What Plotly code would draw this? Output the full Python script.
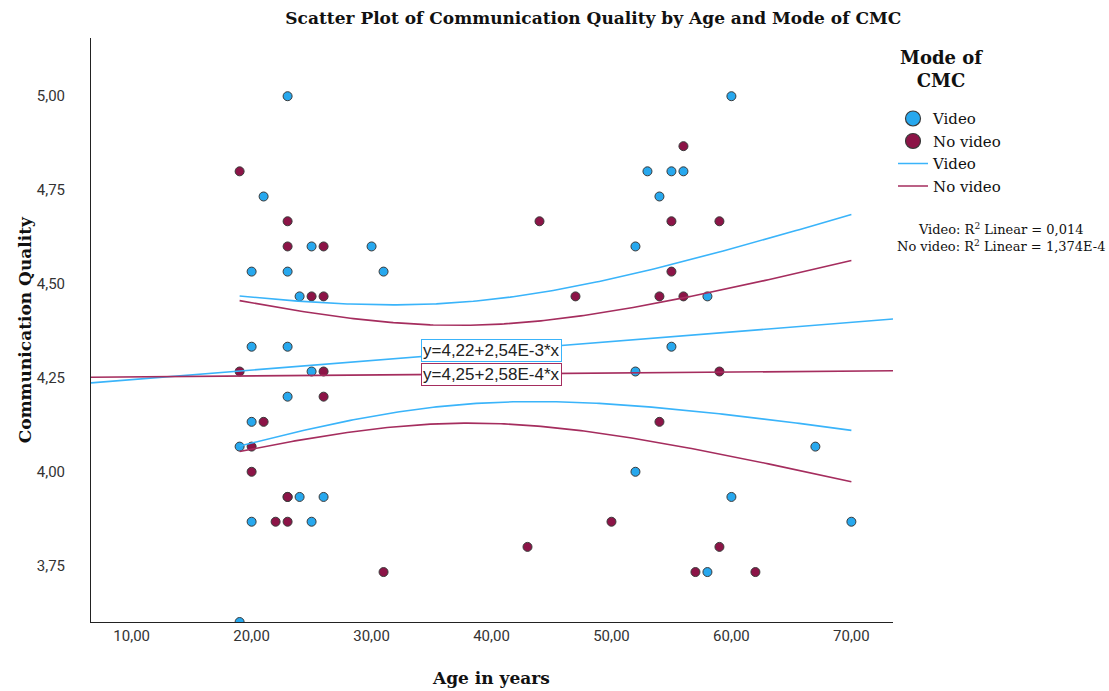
import numpy as np
import plotly.graph_objects as go

# ---------------- data ----------------
video_age = [23, 21, 25, 30, 20, 23, 31, 24, 20, 23, 25, 23, 20, 19, 24, 26, 20, 25, 19,
             60, 53, 55, 56, 54, 52, 58, 55, 52, 67, 52, 60, 70, 58]
video_quality = [5.000, 4.733, 4.600, 4.600, 4.533, 4.533, 4.533, 4.467, 4.333, 4.333, 4.267,
                 4.200, 4.133, 4.067, 3.933, 3.933, 3.867, 3.867, 3.600,
                 5.000, 4.800, 4.800, 4.800, 4.733, 4.600, 4.467, 4.333, 4.267, 4.067, 4.000,
                 3.933, 3.867, 3.733]

novideo_age = [19, 23, 23, 26, 25, 26, 19, 26, 26, 21, 20, 20, 23, 23, 22, 23, 31,
               44, 47, 43,
               56, 55, 59, 55, 54, 56, 59, 54, 50, 59, 57, 62]
novideo_quality = [4.800, 4.667, 4.600, 4.600, 4.467, 4.467, 4.267, 4.267, 4.200, 4.133, 4.067,
                   4.000, 3.933, 3.933, 3.867, 3.867, 3.733,
                   4.667, 4.467, 3.800,
                   4.867, 4.667, 4.667, 4.533, 4.467, 4.467, 4.267, 4.133, 3.867, 3.800, 3.733,
                   3.733]

groups = ["Video", "No video"]
fit_intercepts = [4.22, 4.25]
fit_slopes = [2.54e-3, 2.58e-4]
equation_labels = ["y=4,22+2,54E-3*x", "y=4,25+2,58E-4*x"]
r2_labels = ["Video: R<sup>2</sup> Linear = 0,014", "No video: R<sup>2</sup> Linear = 1,374E-4"]
legend_title = "<b>Mode of<br>CMC</b>"
x_title = "<b>Age in years</b>"
y_title = "<b>Communication Quality</b>"
chart_title = "<b>Scatter Plot of Communication Quality by Age and Mode of CMC</b>"

x_ticks = [10, 20, 30, 40, 50, 60, 70]
y_ticks = [3.75, 4.00, 4.25, 4.50, 4.75, 5.00]
x_range = [6.61, 73.47]
y_range = [3.60, 5.155]
label_x = 40
t_crit = 2.04

# ---------------- styles ----------------
marker_fill = ["#27A8EE", "#8C1447"]
line_col = ["#3AB4FA", "#A52D5E"]
SERIF = "DejaVu Serif"
SANS = "Roboto"

fig = go.Figure()

ages = [video_age, novideo_age]
quals = [video_quality, novideo_quality]

# scatter points
for g in range(2):
    fig.add_trace(go.Scatter(
        x=ages[g], y=quals[g], mode="markers", name=groups[g], showlegend=False,
        marker=dict(size=9, color=marker_fill[g], line=dict(color="#3a3a3a", width=1)),
    ))

# legend marker entries (bigger symbols, as in the reference legend)
for g in range(2):
    fig.add_trace(go.Scatter(
        x=[None], y=[None], mode="markers", name=groups[g],
        marker=dict(size=15, color=marker_fill[g], line=dict(color="#3a3a3a", width=1.2)),
    ))

all_age = np.array(video_age + novideo_age, dtype=float)
ci_x = np.linspace(all_age.min(), all_age.max(), 200)
line_x = np.linspace(x_range[0], x_range[1], 50)

for g in range(2):
    xa = np.array(ages[g], dtype=float)
    ya = np.array(quals[g], dtype=float)
    b0, b1 = fit_intercepts[g], fit_slopes[g]
    n = len(xa)
    xbar = xa.mean()
    sxx = ((xa - xbar) ** 2).sum()
    resid = ya - (b0 + b1 * xa)
    s = np.sqrt((resid ** 2).sum() / (n - 2))
    half = t_crit * s * np.sqrt(1.0 / n + (ci_x - xbar) ** 2 / sxx)
    yhat_ci = b0 + b1 * ci_x
    # fit line (legend entry)
    fig.add_trace(go.Scatter(
        x=line_x, y=b0 + b1 * line_x, mode="lines", name=groups[g],
        line=dict(color=line_col[g], width=1.6),
    ))
    for sign in (1, -1):
        fig.add_trace(go.Scatter(
            x=ci_x, y=yhat_ci + sign * half, mode="lines", showlegend=False,
            line=dict(color=line_col[g], width=1.6), hoverinfo="skip",
        ))

# equation labels
for g in range(2):
    fig.add_annotation(
        x=label_x, y=fit_intercepts[g] + fit_slopes[g] * label_x, xref="x", yref="y",
        text=equation_labels[g], showarrow=False, xanchor="center", yanchor="middle",
        font=dict(family="Liberation Sans", size=17, color="#222"),
        bgcolor="white", bordercolor=line_col[g], borderwidth=1, borderpad=1,
    )

# legend title (centred, as in the reference)
fig.add_annotation(
    x=1.061, y=0.947, xref="paper", yref="paper", xanchor="center", yanchor="middle",
    text=legend_title, showarrow=False, align="center",
    font=dict(family=SERIF, size=18, color="#111"),
)

# R² text
fig.add_annotation(
    x=1.135, y=0.659, xref="paper", yref="paper", xanchor="center", yanchor="middle",
    text="<br>".join(r2_labels), showarrow=False, align="center",
    font=dict(family=SERIF, size=13, color="#111"),
)

# axis titles
fig.add_annotation(
    x=0.499, y=-0.096, xref="paper", yref="paper", xanchor="center", yanchor="middle",
    text=x_title, showarrow=False, font=dict(family=SERIF, size=17, color="#111"),
)
fig.add_annotation(
    x=-0.082, y=0.5, xref="paper", yref="paper", xanchor="center", yanchor="middle",
    text=y_title, showarrow=False, textangle=-90,
    font=dict(family=SERIF, size=17, color="#111"),
)

fig.update_layout(
    width=1109, height=691,
    margin=dict(l=91, r=216, t=38, b=69),
    paper_bgcolor="white", plot_bgcolor="white",
    separators=",.",
    title=dict(
        text=chart_title,
        x=0.535, xanchor="center", y=0.974, yanchor="middle",
        font=dict(family=SERIF, size=17, color="#111"),
    ),
    legend=dict(
        x=1.0, y=0.89, xanchor="left", yanchor="top",
        font=dict(family=SERIF, size=15, color="#111"),
        tracegroupgap=0, itemwidth=30, bgcolor="rgba(0,0,0,0)",
    ),
    xaxis=dict(
        range=x_range, tickvals=x_ticks, tickformat=".2f", automargin=False,
        showline=True, linecolor="#222", linewidth=1, mirror=False,
        showgrid=False, zeroline=False, ticks="",
        tickfont=dict(family=SANS, size=15, color="#333"),
    ),
    yaxis=dict(
        range=y_range, tickvals=y_ticks, tickformat=".2f", automargin=False,
        showline=True, linecolor="#222", linewidth=1, mirror=False,
        showgrid=False, zeroline=False, ticks="", ticklabelstandoff=22,
        tickfont=dict(family=SANS, size=15, color="#333"),
    ),
)

fig.write_html("out.html")
